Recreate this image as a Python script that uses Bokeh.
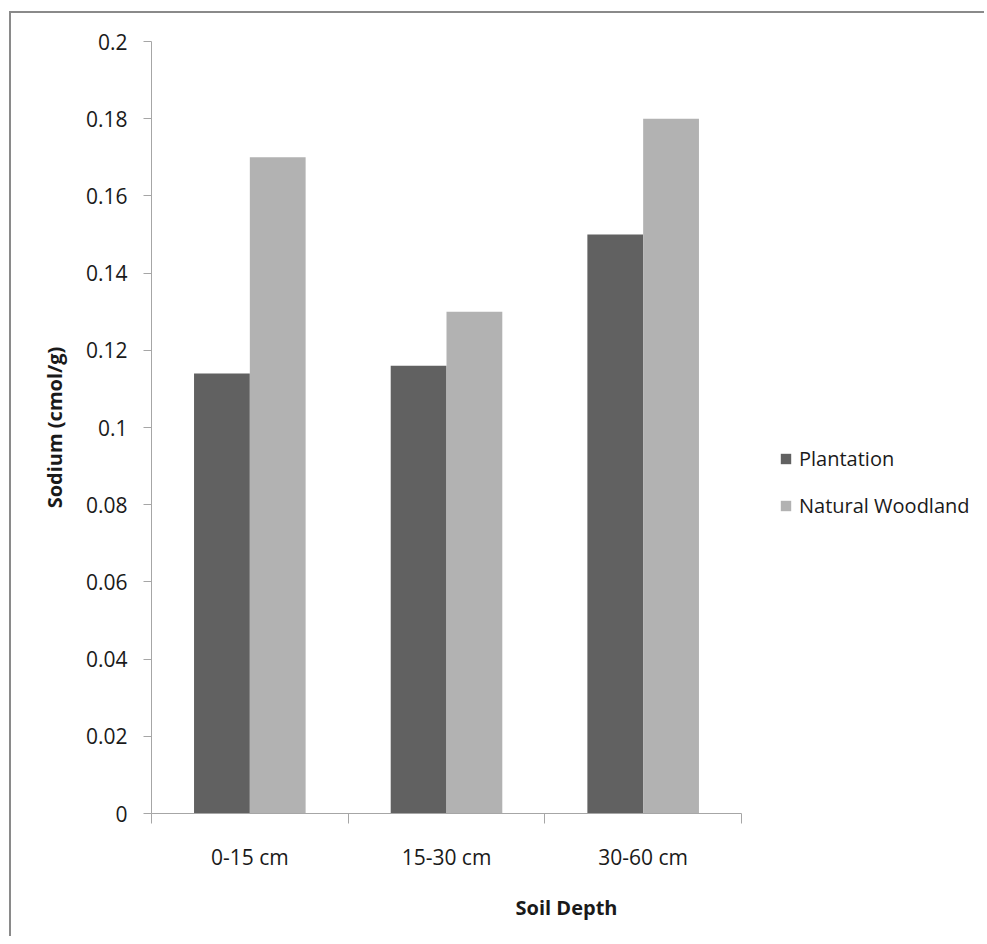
from bokeh.plotting import figure
from bokeh.models import Range1d, FixedTicker, Legend, LegendItem
from bokeh.embed import file_html
from bokeh.resources import INLINE

categories = ["0-15 cm", "15-30 cm", "30-60 cm"]
plantation = [0.114, 0.116, 0.150]
natural_woodland = [0.170, 0.130, 0.180]
y_ticks = [0, 0.02, 0.04, 0.06, 0.08, 0.1, 0.12, 0.14, 0.16, 0.18, 0.2]
y_tick_labels = ["0", "0.02", "0.04", "0.06", "0.08", "0.1", "0.12", "0.14", "0.16", "0.18", "0.2"]

FONT = "Open Sans"
TXT = "#1a1a1a"
AXC = "#a6a6a6"
bar_w = 0.2837

W, H = 975, 925
LEFT, TOP = 140, 28
AXIS_W, AXIS_H = 590, 772
RIGHT = 5
frame_w = W - LEFT - RIGHT
n = len(categories)
x_end = n * frame_w / AXIS_W

p = figure(width=W, height=H, output_backend="svg", toolbar_location=None,
           x_range=Range1d(0, x_end), y_range=Range1d(0, 0.2),
           min_border_left=LEFT, min_border_right=RIGHT, min_border_top=TOP,
           min_border_bottom=H - TOP - AXIS_H)
p.styles = {"border-top": "2px solid #8a8a8a", "border-left": "2px solid #8a8a8a",
            "margin-left": "9px", "margin-top": "11px"}
p.outline_line_color = None
p.xgrid.visible = False
p.ygrid.visible = False

centers = [i + 0.5 for i in range(n)]
r1 = p.vbar(x=[c - bar_w / 2 for c in centers], top=plantation, width=bar_w, bottom=0,
            fill_color="#616161", line_color=None)
r2 = p.vbar(x=[c + bar_w / 2 for c in centers], top=natural_woodland, width=bar_w, bottom=0,
            fill_color="#b2b2b2", line_color=None)

xa = p.xaxis[0]
xa.bounds = (0, n)
xa.ticker = FixedTicker(ticks=centers, minor_ticks=list(range(n + 1)))
xa.major_label_overrides = {c: lab for c, lab in zip(centers, categories)}
xa.major_tick_line_color = None
xa.major_tick_out = 10
xa.major_tick_in = 0
xa.minor_tick_line_color = AXC
xa.minor_tick_out = 10
xa.minor_tick_in = 0
xa.axis_line_color = AXC
xa.major_label_text_font = FONT
xa.major_label_text_font_size = "21px"
xa.major_label_text_color = TXT
xa.major_label_standoff = 19
xa.axis_label = "Soil Depth"
xa.axis_label_text_font = FONT
xa.axis_label_text_font_style = "bold"
xa.axis_label_text_font_size = "20px"
xa.axis_label_text_color = TXT
xa.axis_label_standoff = 20

ya = p.yaxis[0]
ya.ticker = FixedTicker(ticks=y_ticks)
ya.major_label_overrides = {t: lab for t, lab in zip(y_ticks, y_tick_labels)}
ya.minor_tick_line_color = None
ya.major_tick_line_color = AXC
ya.major_tick_out = 8
ya.major_tick_in = 0
ya.axis_line_color = AXC
ya.major_label_text_font = FONT
ya.major_label_text_font_size = "21px"
ya.major_label_text_color = TXT
ya.major_label_standoff = 16
ya.axis_label = "Sodium (cmol/g)"
ya.axis_label_text_font = FONT
ya.axis_label_text_font_style = "bold"
ya.axis_label_text_font_size = "20px"
ya.axis_label_text_color = TXT
ya.axis_label_standoff = 15

legend = Legend(items=[LegendItem(label="Plantation", renderers=[r1]),
                       LegendItem(label="Natural Woodland", renderers=[r2])],
                location=(628, 294))
legend.border_line_color = None
legend.background_fill_alpha = 0
legend.glyph_width = 13
legend.glyph_height = 13
legend.label_height = 24
legend.label_standoff = 7
legend.spacing = 20
legend.padding = 0
legend.margin = 0
legend.label_text_font = FONT
legend.label_text_font_size = "20px"
legend.label_text_color = TXT
p.add_layout(legend)

open("out.html", "w").write(file_html(p, INLINE))
